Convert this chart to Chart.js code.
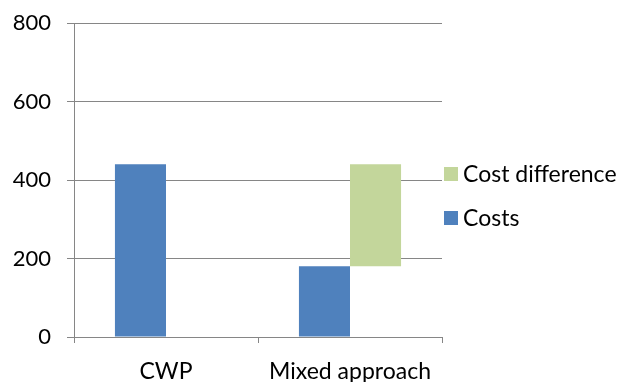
<!DOCTYPE html>
<html>
<head>
<meta charset="utf-8">
<script src="https://cdn.jsdelivr.net/npm/chart.js@4.4.0/dist/chart.umd.min.js"></script>
<style>
  body { margin: 0; background: #fff; }
  canvas { display: block; }
</style>
</head>
<body>
<canvas id="costChart" width="618" height="382"></canvas>
<script>
// categories (x axis)
const categories = ['CWP', 'Mixed approach'];

// series values
const costs = [440, 180];
const diffLow = [null, 180];   // cost difference: floating bar from..
const diffHigh = [null, 440];  // ..to

// y tick values
const yTicks = [0, 200, 400, 600, 800];

const FONT = 'Lato, "Liberation Sans", sans-serif';
const GRID = '#868686';

// floating bar pairs for the difference
const diffData = diffLow.map((lo, i) => lo === null ? null : [lo, diffHigh[i]]);

// simple legend on the right, reversed order like the original
const sideLegend = {
    id: 'sideLegend',
    afterDraw(chart) {
        const c = chart.ctx;
        const area = chart.chartArea;
        const sets = chart.data.datasets.slice().reverse();
        c.save();
        c.font = '23px ' + FONT;
        c.textBaseline = 'middle';
        sets.forEach((ds, i) => {
            const y = 174 + i * 44;
            c.fillStyle = ds.backgroundColor;
            c.fillRect(area.right + 2, y - 7, 14, 14);
            c.fillStyle = '#000';
            c.fillText(ds.label, area.right + 21, y + 1);
        });
        c.restore();
    }
};

new Chart(document.getElementById('costChart'), {
    type: 'bar',
    data: {
        labels: categories,
        datasets: [
            { label: 'Costs', data: costs, backgroundColor: '#4F81BD' },
            { label: 'Cost difference', data: diffData, backgroundColor: '#C3D69B' }
        ]
    },
    options: {
        responsive: false,
        animation: false,
        events: [],
        categoryPercentage: 0.555,
        barPercentage: 1,
        layout: { padding: { top: 23, right: 176, left: 0, bottom: 0 } },
        plugins: {
            legend: { display: false },
            tooltip: { enabled: false }
        },
        scales: {
            x: {
                afterFit: s => { s.height = 45; s.paddingLeft = 0; s.paddingRight = 0; },
                grid: { offset: true, drawOnChartArea: false, color: GRID, tickLength: 6 },
                border: { color: GRID },
                ticks: { color: '#000', font: { family: FONT, size: 23 }, padding: 15, maxRotation: 0 }
            },
            y: {
                min: 0,
                max: 800,
                afterFit: s => { s.width = 74; s.paddingTop = 0; s.paddingBottom = 0; },
                afterBuildTicks: s => { s.ticks = yTicks.map(v => ({ value: v })); },
                grid: { color: GRID, tickLength: 7 },
                border: { color: GRID },
                ticks: { color: '#000', font: { family: FONT, size: 22 }, padding: 16 }
            }
        }
    },
    plugins: [sideLegend]
});
</script>
</body>
</html>
